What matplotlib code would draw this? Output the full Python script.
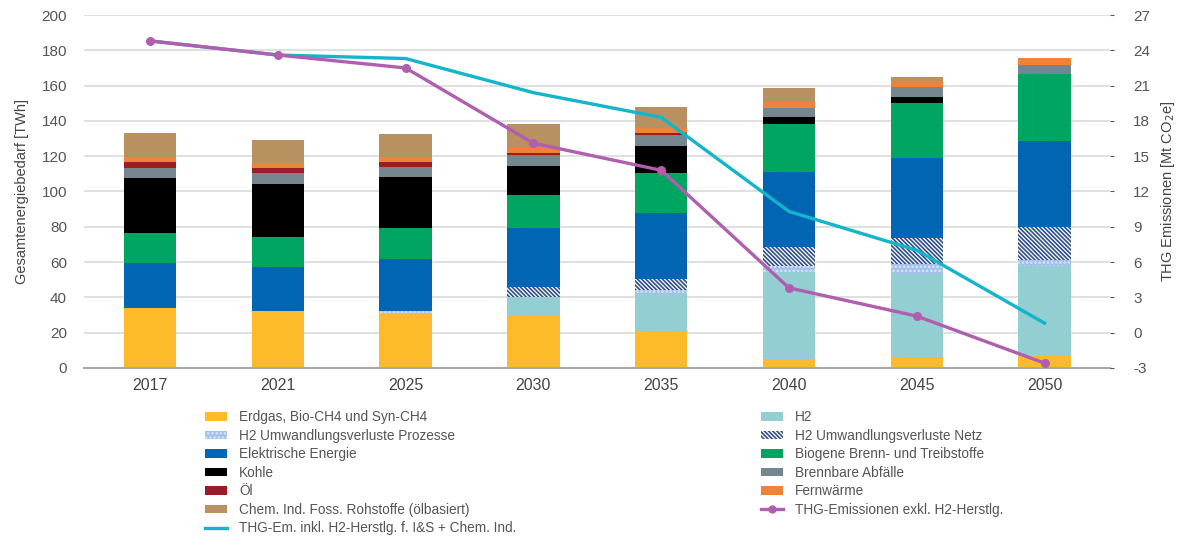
import numpy as np
import matplotlib.pyplot as plt
from matplotlib.patches import Patch
from matplotlib.lines import Line2D

plt.rcParams['font.family'] = ['Liberation Sans', 'DejaVu Sans']
plt.rcParams['hatch.linewidth'] = 1.2
plt.rcParams['axes.unicode_minus'] = False

years = ['2017', '2021', '2025', '2030', '2035', '2040', '2045', '2050']

# energy demand in TWh, stacked bottom to top
erdgas = [33.8, 32.5, 31.3, 29.5, 21.0, 5.1, 6.0, 6.8]
h2 = [0.0, 0.0, 0.0, 10.9, 20.9, 49.5, 47.3, 51.0]
h2_proz = [0.0, 0.0, 1.2, 0.0, 2.5, 3.2, 5.6, 3.4]
h2_netz = [0.0, 0.0, 0.0, 5.3, 6.0, 10.5, 14.6, 18.5]
elektrisch = [25.7, 24.5, 29.3, 33.8, 37.6, 42.7, 45.3, 48.9]
biogen = [16.8, 17.2, 17.3, 18.5, 22.3, 27.0, 31.5, 38.0]
kohle = [31.2, 30.2, 29.1, 16.6, 15.7, 4.0, 3.4, 0.0]
abfall = [6.0, 6.3, 5.8, 6.1, 6.2, 5.5, 5.7, 5.3]
oel = [3.4, 2.4, 2.5, 1.3, 0.8, 0.0, 0.0, 0.0]
fernwaerme = [2.8, 2.9, 2.8, 2.8, 2.8, 3.4, 3.2, 3.5]
chem = [13.3, 13.2, 13.3, 13.2, 11.9, 7.9, 2.1, 0.0]

# emissions in Mt CO2e
thg_inkl = [24.8, 23.6, 23.3, 20.4, 18.3, 10.3, 7.0, 0.8]
thg_exkl = [24.8, 23.6, 22.5, 16.1, 13.8, 3.8, 1.4, -2.6]

series = [
    ('Erdgas, Bio-CH4 und Syn-CH4', erdgas, '#FDBB2A', None, None),
    ('H2', h2, '#93CED2', None, None),
    ('H2 Umwandlungsverluste Prozesse', h2_proz, '#A3C0EC', '....', '#DCE8F8'),
    ('H2 Umwandlungsverluste Netz', h2_netz, 'white', '\\' * 8, '#2E4E8C'),
    ('Elektrische Energie', elektrisch, '#0065B3', None, None),
    ('Biogene Brenn- und Treibstoffe', biogen, '#00A562', None, None),
    ('Kohle', kohle, '#000000', None, None),
    ('Brennbare Abfälle', abfall, '#76868F', None, None),
    ('Öl', oel, '#9B1C26', None, None),
    ('Fernwärme', fernwaerme, '#F0823A', None, None),
    ('Chem. Ind. Foss. Rohstoffe (ölbasiert)', chem, '#B99160', None, None),
]

fig = plt.figure(figsize=(11.78, 5.37), dpi=100)
ax = fig.add_axes([0.071, 0.315, 0.871, 0.657])
x = np.arange(len(years))
bottom = np.zeros(len(years))
handles = {}
for name, vals, color, hatch, hcol in series:
    vals = np.array(vals)
    ax.bar(x, vals, 0.41, bottom=bottom, color=color, hatch=hatch,
           edgecolor=hcol if hcol else color, linewidth=0, zorder=2)
    handles[name] = Patch(facecolor=color, hatch=hatch,
                          edgecolor=hcol if hcol else color, linewidth=0)
    bottom += vals

ax.set_xlim(-0.52, 7.51)
ax.set_ylim(0, 200)
ax.set_yticks(range(0, 201, 20))
ax.set_xticks(x)
ax.set_xticklabels(years, fontsize=11.5, color='#444444')
ax.tick_params(axis='y', labelsize=11, colors='#555555', length=0, pad=12)
ax.tick_params(axis='x', length=0, pad=7)
ax.grid(axis='y', color='#dadada', linewidth=1.2, zorder=0)
for s in ['top', 'right', 'left']:
    ax.spines[s].set_visible(False)
ax.spines['bottom'].set_color('#a8a8a8')
ax.spines['bottom'].set_linewidth(1.5)
ax.set_ylabel('Gesamtenergiebedarf [TWh]', fontsize=10.5, color='#444444', labelpad=9)

ax2 = ax.twinx()
ax2.set_ylim(-3, 27)
ax2.set_yticks(range(-3, 28, 3))
ax2.tick_params(axis='y', labelsize=11, colors='#555555', length=3, width=0.8, pad=14)
for s in ax2.spines.values():
    s.set_visible(False)
ax2.plot(x, thg_inkl, color='#12B5CB', linewidth=2.4, zorder=3)
ax2.plot(x, thg_exkl, color='#B05FAF', linewidth=2.4, marker='o', markersize=5.5, zorder=3)
ax2.set_ylabel('THG Emissionen [Mt CO$_2$e]', fontsize=10.5, color='#444444', labelpad=6)

h_inkl = Line2D([], [], color='#12B5CB', linewidth=2.4)
h_exkl = Line2D([], [], color='#B05FAF', linewidth=2.4, marker='o', markersize=5)

left_names = ['Erdgas, Bio-CH4 und Syn-CH4', 'H2 Umwandlungsverluste Prozesse',
              'Elektrische Energie', 'Kohle', 'Öl',
              'Chem. Ind. Foss. Rohstoffe (ölbasiert)']
right_names = ['H2', 'H2 Umwandlungsverluste Netz', 'Biogene Brenn- und Treibstoffe',
               'Brennbare Abfälle', 'Fernwärme']

leg_kw = dict(frameon=False, fontsize=9.8, labelcolor='#555555', handlelength=1.6,
              handleheight=0.6, handletextpad=0.9, labelspacing=0.33,
              borderaxespad=0, borderpad=0)
fig.legend([handles[n] for n in left_names] + [h_inkl],
           left_names + ['THG-Em. inkl. H2-Herstlg. f. I&S + Chem. Ind.'],
           loc='upper left', bbox_to_anchor=(0.174, 0.236), **leg_kw)
fig.legend([handles[n] for n in right_names] + [h_exkl],
           right_names + ['THG-Emissionen exkl. H2-Herstlg.'],
           loc='upper left', bbox_to_anchor=(0.646, 0.236), **leg_kw)

fig.savefig('out.png', dpi=100)
